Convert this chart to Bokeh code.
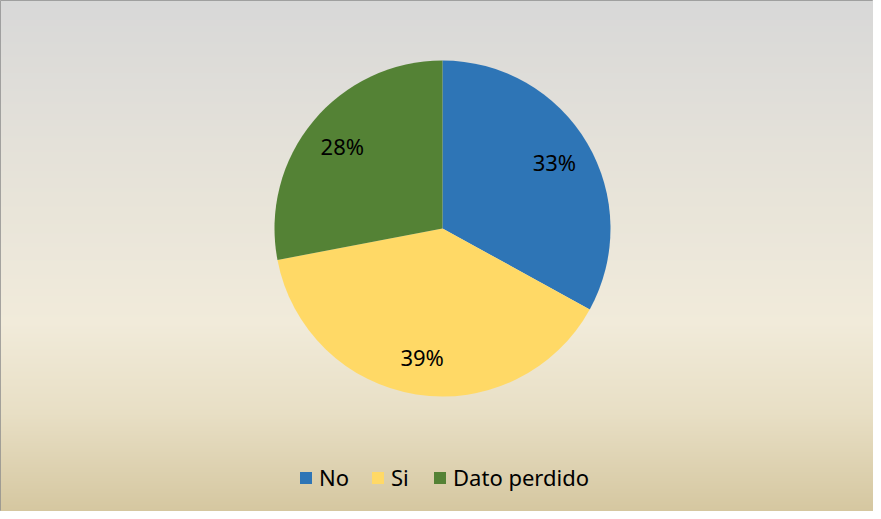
import numpy as np
from bokeh.plotting import figure
from bokeh.models import ColumnDataSource, Range1d, Legend, LegendItem
from bokeh.core.properties import value
from bokeh.embed import file_html
from bokeh.resources import INLINE

# ---- data ----
categories = ["No", "Si", "Dato perdido"]
values = [33, 39, 28]
labels = ["33%", "39%", "28%"]
colors = ["#2E75B6", "#FFD966", "#548235"]

W, H = 873, 511
FONT = "Noto Sans"

p = figure(width=W, height=H, x_range=Range1d(0, W), y_range=Range1d(0, H),
           output_backend="svg", toolbar_location=None, min_border=0)
p.axis.visible = False
p.grid.visible = False
p.outline_line_color = "#8c8c8c"
p.outline_line_width = 1
p.background_fill_color = "#e8e4da"
p.border_fill_color = "#ffffff"

# ---- background gradient (page y -> color) ----
stops_y = [9, 150, 330, 420, 519]
stops_c = [(216, 216, 216), (228, 225, 217), (241, 235, 218), (232, 223, 197), (213, 199, 160)]
img = np.zeros((H, 2), dtype=np.uint32)
view = img.view(dtype=np.uint8).reshape((H, 2, 4))
for r in range(H):
    t = H - 1 - r
    py = t + 8
    for k in range(3):
        ch = np.interp(py, stops_y, [c[k] for c in stops_c])
        view[r, :, k] = int(round(ch))
    view[r, :, 3] = 255
p.image_rgba(image=[img], x=0, y=0, dw=W, dh=H)

# ---- pie ----
cx, cy, R = 442, 283, 168
vals = np.array(values, dtype=float)
total = vals.sum()
cum = np.concatenate([[0], np.cumsum(vals)])
start = np.pi / 2 - 2 * np.pi * cum[:-1] / total
end = np.pi / 2 - 2 * np.pi * cum[1:] / total
mid = (start + end) / 2
src = ColumnDataSource(dict(cat=categories, val=values, color=colors,
                            start=list(start), end=list(end)))
wr = p.wedge(x=cx, y=cy, radius=R, start_angle="start", end_angle="end",
             direction="clock", fill_color="color", line_color=None, source=src)

lr = 130
lsrc = ColumnDataSource(dict(x=list(cx + lr * np.cos(mid)), y=list(cy + lr * np.sin(mid)),
                             text=labels))
p.text(x="x", y="y", text="text", source=lsrc, text_font=value(FONT),
       text_font_size="22px", text_color="#000000", text_align="center",
       text_baseline="middle")

# ---- legend ----
items = [LegendItem(label=c, renderers=[wr], index=i) for i, c in enumerate(categories)]
legend = Legend(items=items, orientation="horizontal", location=(298, 19),
                glyph_width=15, glyph_height=15, label_standoff=6, spacing=21,
                padding=0, margin=0, background_fill_alpha=0, border_line_alpha=0,
                label_text_font=FONT, label_text_font_size="22px",
                label_text_color="#000000", label_height=22)
p.add_layout(legend, "center")

open("out.html", "w").write(file_html(p, INLINE))
